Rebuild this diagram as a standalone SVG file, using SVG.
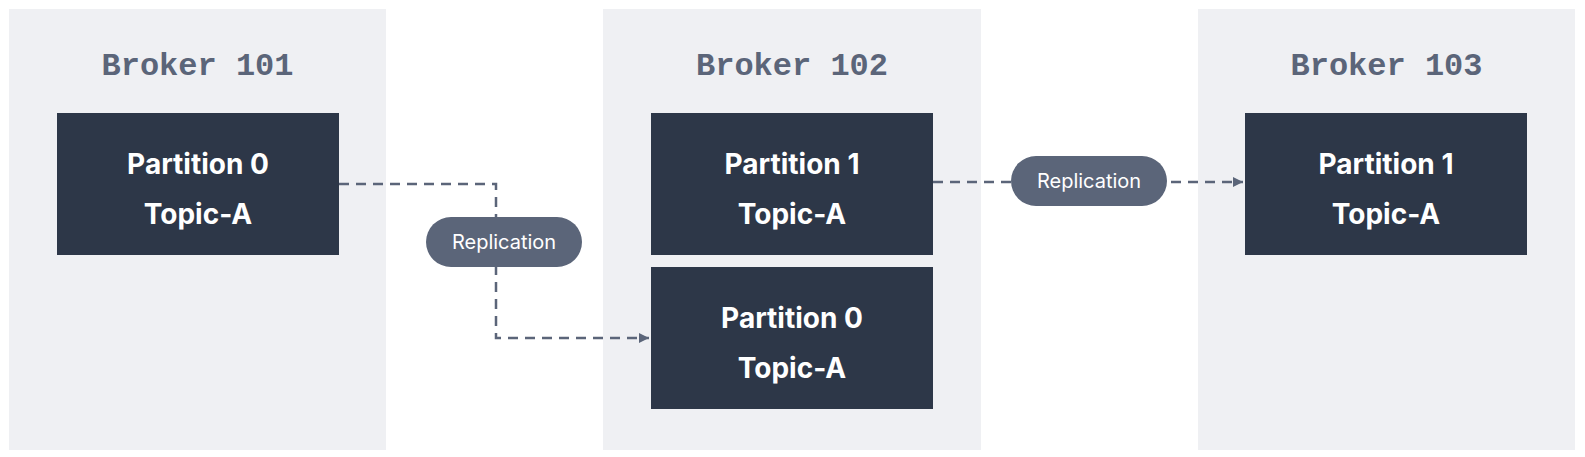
<svg xmlns="http://www.w3.org/2000/svg" width="1585" height="457" viewBox="0 0 1585 457">
<style>
.panel{fill:#eff0f3}
.title{font-family:"Liberation Mono",monospace;font-weight:700;font-size:32px;fill:#5b6579;text-anchor:middle}
.box{fill:#2d3748}
.bt{font-family:Inter,"Noto Sans",sans-serif;font-weight:700;font-size:28px;fill:#ffffff;text-anchor:middle}
.pill{fill:#5b6579}
.pt{font-family:Inter,"Noto Sans",sans-serif;font-size:20px;fill:#ffffff;text-anchor:middle}
.conn{fill:none;stroke:#5b6579;stroke-width:2.5;stroke-dasharray:10 7}
</style>
<defs>
<marker id="arr" viewBox="0 0 10 10" refX="10" refY="5" markerWidth="10" markerHeight="10" markerUnits="userSpaceOnUse" orient="auto">
<path d="M0,0 L10,5 L0,10 z" fill="#5b6579"/>
</marker>
</defs>
<rect width="1585" height="457" fill="#ffffff"/>
<g id="broker101">
<rect class="panel" x="9" y="9" width="377" height="441"/>
<text class="title" x="197.5" y="75">Broker 101</text>
</g>
<g id="broker102">
<rect class="panel" x="603" y="9" width="378" height="441"/>
<text class="title" x="792" y="75">Broker 102</text>
</g>
<g id="broker103">
<rect class="panel" x="1198" y="9" width="377" height="441"/>
<text class="title" x="1386.5" y="75">Broker 103</text>
</g>
<g id="connectors">
<path class="conn" d="M339,184 H496 V338 H649" marker-end="url(#arr)"/>
<path class="conn" d="M933,182 H1243" marker-end="url(#arr)"/>
</g>
<g id="b101-p0">
<rect class="box" x="57" y="113" width="282" height="142"/>
<text class="bt" x="198" y="174">Partition 0</text>
<text class="bt" x="198" y="224">Topic-A</text>
</g>
<g id="b102-p1">
<rect class="box" x="651" y="113" width="282" height="142"/>
<text class="bt" x="792" y="174">Partition 1</text>
<text class="bt" x="792" y="224">Topic-A</text>
</g>
<g id="b102-p0">
<rect class="box" x="651" y="267" width="282" height="142"/>
<text class="bt" x="792" y="328">Partition 0</text>
<text class="bt" x="792" y="378">Topic-A</text>
</g>
<g id="b103-p1">
<rect class="box" x="1245" y="113" width="282" height="142"/>
<text class="bt" x="1386" y="174">Partition 1</text>
<text class="bt" x="1386" y="224">Topic-A</text>
</g>
<g id="label1">
<rect class="pill" x="426" y="217" width="156" height="50" rx="25"/>
<text class="pt" x="504" y="249">Replication</text>
</g>
<g id="label2">
<rect class="pill" x="1011" y="156" width="156" height="50" rx="25"/>
<text class="pt" x="1089" y="188">Replication</text>
</g>
</svg>
